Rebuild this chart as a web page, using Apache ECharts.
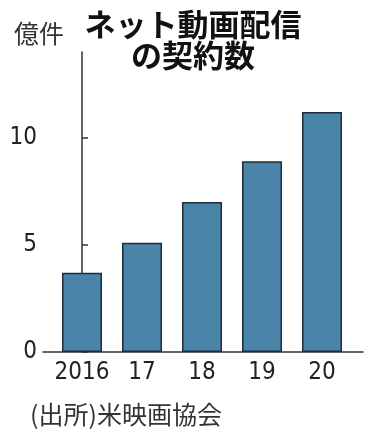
<!DOCTYPE html>
<html>
<head>
<meta charset="utf-8">
<script src="https://cdn.jsdelivr.net/npm/echarts@6/dist/echarts.min.js"></script>
<style>
  html, body { margin: 0; padding: 0; background: #fff; }
  #chart { width: 378px; height: 434px; }
</style>
</head>
<body>
<div id="chart"></div>
<script>
const categories = ['2016', '17', '18', '19', '20'];
const subscriptions = [3.7, 5.1, 7.0, 8.9, 11.2];
const categoryIndex = [0, 1, 2, 3, 4];

const numFont = "'Liberation Sans Narrow', 'DejaVu Sans Condensed', 'Liberation Sans', sans-serif";
const jpFont = "'Noto Sans CJK JP', sans-serif";

const chart = echarts.init(document.getElementById('chart'), null, { renderer: 'canvas' });

chart.setOption({
  animation: false,
  backgroundColor: '#fff',
  title: [{
    text: 'ネット動画配信\nの契約数',
    left: 188,
    top: 4,
    textAlign: 'center',
    textStyle: {
      fontFamily: jpFont,
      fontWeight: 'bold',
      fontSize: 31,
      lineHeight: 31,
      color: '#111'
    }
  }, {
    text: '億件',
    left: 9,
    top: 16,
    textStyle: { fontFamily: jpFont, fontWeight: 'normal', fontSize: 25, color: '#333' }
  }, {
    text: '(出所)米映画協会',
    left: 25,
    top: 397,
    textStyle: { fontFamily: jpFont, fontWeight: 'normal', fontSize: 25, color: '#333' }
  }],
  grid: { left: 43, right: 15, top: 52, bottom: 82 },
  xAxis: {
    type: 'value',
    min: -0.65,
    max: 4.683,
    splitLine: { show: false },
    axisTick: { show: false },
    axisLine: { lineStyle: { color: '#333', width: 1.5 } },
    axisLabel: {
      customValues: categoryIndex,
      formatter: v => categories[Math.round(v)],
      margin: 9,
      fontFamily: numFont,
      fontSize: 24,
      color: '#222'
    }
  },
  yAxis: {
    type: 'value',
    min: 0,
    max: 14,
    interval: 5,
    splitLine: { show: false },
    axisLine: { show: true, lineStyle: { color: '#333', width: 1.5 } },
    axisTick: {
      show: true,
      inside: true,
      length: 6,
      lineStyle: { color: '#333', width: 1.5 }
    },
    axisLabel: {
      showMaxLabel: false,
      margin: 6,
      fontFamily: numFont,
      fontSize: 24,
      color: '#222'
    }
  },
  series: [{
    type: 'bar',
    barWidth: 40,
    data: subscriptions.map((v, i) => [categoryIndex[i], v]),
    itemStyle: {
      color: '#4b84a9',
      borderColor: '#1f2d3a',
      borderWidth: 1.5
    }
  }]
});
</script>
</body>
</html>
